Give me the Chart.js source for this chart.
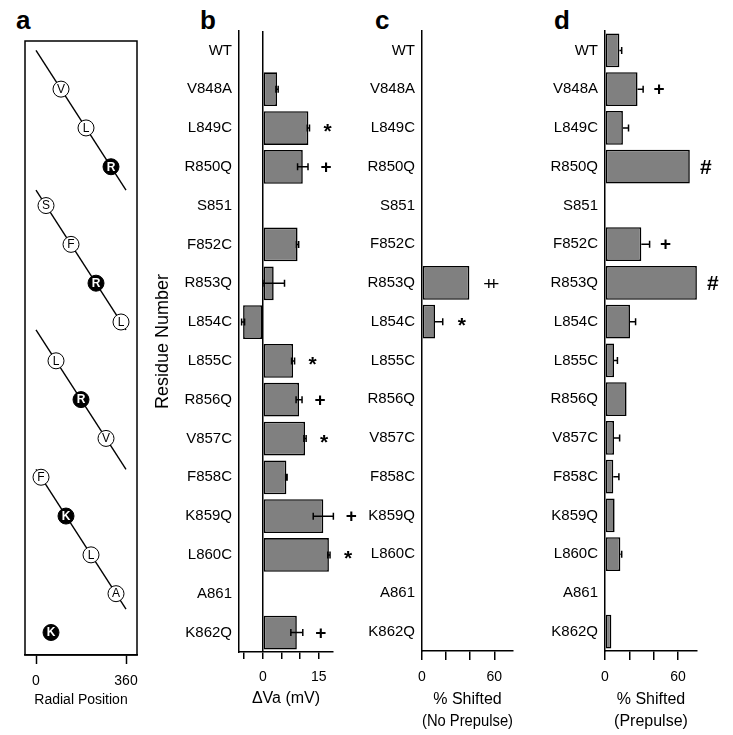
<!DOCTYPE html>
<html>
<head>
<meta charset="utf-8">
<script src="https://cdn.jsdelivr.net/npm/chart.js@4"></script>
<style>
  body { margin: 0; background: #fff; width: 733px; height: 735px; position: relative; overflow: hidden; }
  canvas { position: absolute; top: 0; }
  .tag { position: absolute; top: 7px; font: bold 26px/26px Arial, "Liberation Sans", sans-serif; color: #000; }
</style>
</head>
<body>
<div class="tag" style="left:16px">a</div>
<div class="tag" style="left:200px">b</div>
<div class="tag" style="left:375px">c</div>
<div class="tag" style="left:554px">d</div>
<canvas id="panelA" width="150" height="735" style="left:0"></canvas>
<canvas id="panelB" width="220" height="735" style="left:152px"></canvas>
<canvas id="panelC" width="185" height="735" style="left:360px"></canvas>
<canvas id="panelD" width="188" height="735" style="left:545px"></canvas>
<script>
const residues = ['WT', 'V848A', 'L849C', 'R850Q', 'S851', 'F852C', 'R853Q', 'L854C',
                  'L855C', 'R856Q', 'V857C', 'F858C', 'K859Q', 'L860C', 'A861', 'K862Q'];

// a: helical wheel positions (degrees), one per residue
const wheelLetters   = ['', 'V', 'L', 'R', 'S', 'F', 'R', 'L', 'L', 'R', 'V', 'F', 'K', 'L', 'A', 'K'];
const radialPosition = [null, 100, 200, 300, 40, 140, 240, 340, 80, 180, 280, 20, 120, 220, 320, 60];
const wheelTurns = [[0, 3.6], [3.6, 7.2], [7.2, 10.8], [10.8, 14.4]]; // row at 0° and at 360°
const wheelSpan = [0, 360];
const radialTicks = [0, 360];

// b: ΔVa (mV)
const deltaVa      = [null, 3.8, 12.2, 10.7, null, 9.3, 2.9, -5.3, 8.1, 9.7, 11.3, 6.3, 16.2, 17.7, null, 9.1];
const deltaVaErr   = [null, 0.3, 0.3, 1.4, null, 0.3, 2.9, 0.4, 0.4, 0.8, 0.3, 0.2, 2.7, 0.3, null, 1.6];
const deltaVaMarks = ['', '', '*', '+', '', '', '', '', '*', '+', '*', '', '+', '*', '', '+'];
const vaTicks = [-5, 0, 5, 10, 15];
const vaTickLabels = [0, 15];

// c: % shifted, no prepulse
const noPrepulse      = [null, null, null, null, null, null, 39.3, 10.8, null, null, null, null, null, null, null, null];
const noPrepulseErr   = [null, null, null, null, null, null, 0, 6.4, null, null, null, null, null, null, null, null];
const noPrepulseMarks = ['', '', '', '', '', '', '++', '*', '', '', '', '', '', '', '', ''];

// d: % shifted, prepulse
const prepulse      = [11.8, 26.7, 14.7, 69.6, null, 29.8, 75.4, 20.5, 7.4, 17.7, 7.4, 6.8, 7.9, 12.6, null, 5.2];
const prepulseErr   = [1.9, 4.6, 4.6, 0, null, 6.8, 0, 4.6, 2.8, 0, 4.6, 4.6, 0, 1.1, null, 0];
const prepulseMarks = ['', '+', '', '#', '', '+', '#', '', '', '', '', '', '', '', '', ''];
const pctTicks = [0, 20, 40, 60];
const pctTickLabels = [0, 60];

Chart.defaults.font.family = 'Arial, "Liberation Sans", sans-serif';
Chart.defaults.color = '#000';

const markFonts = { '*': 'bold 21px Arial, "Liberation Sans", sans-serif',
                    '+': 'bold 19px Arial, "Liberation Sans", sans-serif',
                    '++': '19px Arial, "Liberation Sans", sans-serif',
                    '#': 'bold 21px Arial, "Liberation Sans", sans-serif' };

function errorsAndMarks(errs, marks, twoSided, gap) {
    return {
        id: 'errorsAndMarks',
        afterDatasetsDraw(chart) {
            const ctx = chart.ctx;
            const xs = chart.scales.x;
            const values = chart.data.datasets[0].data;
            ctx.save();
            ctx.strokeStyle = '#000';
            ctx.fillStyle = '#000';
            ctx.lineWidth = 1.5;
            chart.getDatasetMeta(0).data.forEach((bar, i) => {
                const v = values[i];
                if (v === null) return;
                const e = errs[i] || 0;
                const y = bar.y;
                const end = xs.getPixelForValue(v + e);
                if (e > 0) {
                    const start = twoSided ? xs.getPixelForValue(v - e) : xs.getPixelForValue(v);
                    ctx.beginPath();
                    ctx.moveTo(start, y); ctx.lineTo(end, y);
                    ctx.moveTo(end, y - 3.5); ctx.lineTo(end, y + 3.5);
                    if (twoSided) { ctx.moveTo(start, y - 3.5); ctx.lineTo(start, y + 3.5); }
                    ctx.stroke();
                }
                const m = marks[i];
                if (m) {
                    ctx.font = markFonts[m];
                    ctx.letterSpacing = m === '++' ? '-6px' : '0px';
                    ctx.textAlign = 'center';
                    ctx.textBaseline = 'alphabetic';
                    const tm = ctx.measureText(m);
                    ctx.fillText(m, end + gap, y + (tm.actualBoundingBoxAscent - tm.actualBoundingBoxDescent) / 2);
                }
            });
            ctx.restore();
        }
    };
}

function barPanel(id, values, errs, marks, o) {
    new Chart(document.getElementById(id), {
        type: 'bar',
        data: {
            labels: residues,
            datasets: [{
                data: values,
                backgroundColor: '#808080',
                borderColor: '#000',
                borderWidth: 1.6,
                borderSkipped: false,
                barPercentage: 0.87,
                categoryPercentage: 1
            }]
        },
        options: {
            indexAxis: 'y',
            responsive: false,
            animation: false,
            layout: { padding: o.padding },
            plugins: { legend: { display: false }, tooltip: { enabled: false } },
            scales: {
                x: {
                    min: o.min, max: o.max,
                    afterBuildTicks: s => { s.ticks = o.ticks.map(v => ({ value: v })); },
                    afterFit: s => { s.height = o.xHeight; },
                    ticks: {
                        autoSkip: false, maxRotation: 0, padding: o.tickPadding, font: { size: 14 },
                        callback: v => o.tickLabels.includes(v) ? String(v) : ''
                    },
                    grid: {
                        color: c => (o.zeroLine && c.tick && c.tick.value === 0) ? '#000' : 'rgba(0,0,0,0)',
                        lineWidth: 1.5, tickColor: '#000', tickWidth: 1.5, tickLength: o.tickLength
                    },
                    border: { color: '#000', width: 1.5 },
                    title: { display: true, text: o.title, padding: 0, font: { size: 16, lineHeight: 1.4 } }
                },
                y: {
                    afterFit: s => { s.width = o.yWidth; },
                    grid: { display: false, drawTicks: false },
                    border: { color: '#000', width: 1.5 },
                    ticks: { autoSkip: false, padding: 7, font: { size: 15 } },
                    title: o.yTitle ? { display: true, text: o.yTitle, padding: 0, font: { size: 18 } } : { display: false }
                }
            }
        },
        plugins: [errorsAndMarks(errs, marks, o.twoSided, o.gap)]
    });
}

// panel a
const wheelPoints = residues.map((r, i) => ({ x: radialPosition[i], y: i, letter: wheelLetters[i] }))
                            .filter(p => p.x !== null);
const isCharged = l => l === 'R' || l === 'K';

new Chart(document.getElementById('panelA'), {
    type: 'scatter',
    data: {
        datasets: [{
            data: wheelPoints,
            pointRadius: 8,
            pointBackgroundColor: wheelPoints.map(p => isCharged(p.letter) ? '#000' : '#fff'),
            pointBorderColor: '#000',
            pointBorderWidth: 1
        }].concat(wheelTurns.map(t => ({
            data: [{ x: wheelSpan[0], y: t[0] }, { x: wheelSpan[1], y: t[1] }],
            showLine: true,
            borderColor: '#000',
            borderWidth: 1.4,
            pointRadius: 0
        })))
    },
    options: {
        responsive: false,
        animation: false,
        layout: { padding: { left: 25, right: 13, top: 41, bottom: 26.6 } },
        plugins: { legend: { display: false }, tooltip: { enabled: false } },
        scales: {
            x: {
                min: -44, max: 404,
                afterBuildTicks: s => { s.ticks = radialTicks.map(v => ({ value: v })); },
                afterFit: s => { s.height = 53.4; },
                ticks: { autoSkip: false, maxRotation: 0, padding: 8.6, font: { size: 14 } },
                grid: { drawOnChartArea: false, tickColor: '#000', tickWidth: 1.5, tickLength: 9 },
                border: { color: '#000', width: 1.5 },
                title: { display: true, text: 'Radial Position', padding: 0, font: { size: 14 } }
            },
            y: { display: false, reverse: true, min: -0.24, max: 15.58 }
        }
    },
    plugins: [{
        id: 'wheelBox',
        afterDatasetsDraw(chart) {
            const ctx = chart.ctx;
            const a = chart.chartArea;
            ctx.save();
            ctx.strokeStyle = '#000';
            ctx.lineWidth = 1.5;
            ctx.strokeRect(a.left, a.top, a.right - a.left, a.bottom - a.top);
            ctx.textAlign = 'center';
            ctx.textBaseline = 'middle';
            chart.getDatasetMeta(0).data.forEach((pt, i) => {
                const l = chart.data.datasets[0].data[i].letter;
                ctx.font = (isCharged(l) ? 'bold ' : '') + '12px Arial, "Liberation Sans", sans-serif';
                ctx.fillStyle = isCharged(l) ? '#fff' : '#000';
                ctx.fillText(l, pt.x, pt.y + 0.5);
            });
            ctx.restore();
        }
    }]
});

barPanel('panelB', deltaVa, deltaVaErr, deltaVaMarks, {
    padding: { left: 0, right: 39, top: 31, bottom: 25.4 },
    min: -6.4, max: 18.8, ticks: vaTicks, tickLabels: vaTickLabels,
    xHeight: 57.6, yWidth: 87, tickPadding: 10, tickLength: 7,
    zeroLine: true, twoSided: true, gap: 18,
    title: 'ΔVa (mV)', yTitle: 'Residue Number'
});

barPanel('panelC', noPrepulse, noPrepulseErr, noPrepulseMarks, {
    padding: { left: 0, right: 32, top: 31, bottom: 2 },
    min: 0, max: 75.5, ticks: pctTicks, tickLabels: pctTickLabels,
    xHeight: 82, yWidth: 62, tickPadding: 8.3, tickLength: 9,
    zeroLine: false, twoSided: false, gap: 19,
    title: ['% Shifted', '(No Prepulse)']
});

barPanel('panelD', prepulse, prepulseErr, prepulseMarks, {
    padding: { left: 0, right: 36, top: 31, bottom: 2 },
    min: 0, max: 75.5, ticks: pctTicks, tickLabels: pctTickLabels,
    xHeight: 82, yWidth: 60, tickPadding: 8.3, tickLength: 9,
    zeroLine: false, twoSided: false, gap: 16,
    title: ['% Shifted', '(Prepulse)']
});
</script>
</body>
</html>
